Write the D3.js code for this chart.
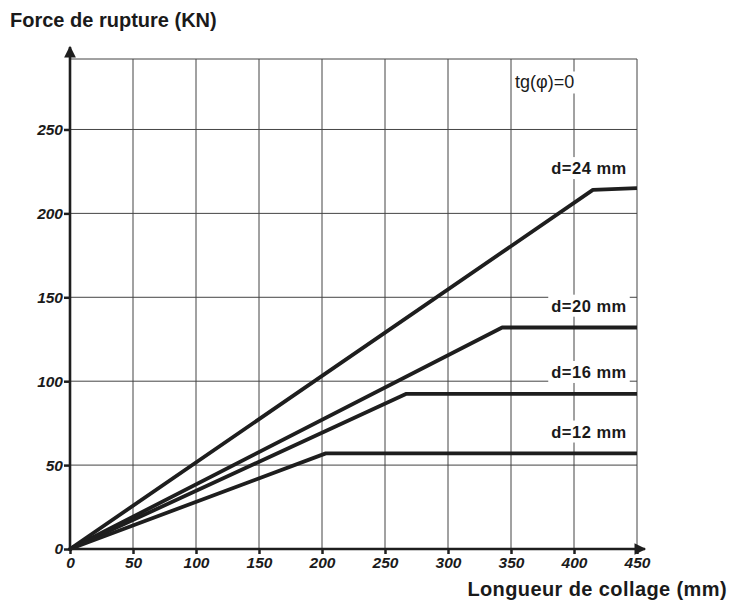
<!DOCTYPE html>
<html><head><meta charset="utf-8">
<script src="https://cdn.jsdelivr.net/npm/d3@7"></script>
<style>
body{margin:0;background:#fff;}
text{font-family:"Liberation Sans",Arial,Helvetica,sans-serif;fill:#1a1a1a;}
</style></head>
<body>
<svg id="chart" width="729" height="605"></svg>
<script>
const xTicks = [0,50,100,150,200,250,300,350,400,450];
const yTicks = [0,50,100,150,200,250];
const seriesNames = ["d=24 mm","d=20 mm","d=16 mm","d=12 mm"];
const d24 = [[0,0],[415,214],[450,215]];
const d20 = [[0,0],[343,132],[450,132]];
const d16 = [[0,0],[267,92.5],[450,92.5]];
const d12 = [[0,0],[203,57],[450,57]];
const labelY = [227,145,105.5,70];
const yMax = 292;

const svg = d3.select("#chart");
const m = {l:70, r:92, t:59, b:56};
const W = 729, H = 605;
const x = d3.scaleLinear().domain([0,450]).range([m.l, W-m.r]);
const y = d3.scaleLinear().domain([0,yMax]).range([H-m.b, m.t]);
const ink = "#1e1e1e";

// grid
const g = svg.append("g");
g.selectAll(".vg").data(xTicks.slice(1)).enter().append("line")
  .attr("x1",d=>x(d)).attr("x2",d=>x(d)).attr("y1",y(0)).attr("y2",y(yMax))
  .attr("stroke","#444").attr("stroke-width",1);
g.selectAll(".hg").data(yTicks.slice(1).concat([yMax])).enter().append("line")
  .attr("x1",x(0)).attr("x2",x(450)).attr("y1",d=>y(d)).attr("y2",d=>y(d))
  .attr("stroke","#444").attr("stroke-width",1);

// series
const line = d3.line().x(d=>x(d[0])).y(d=>y(d[1]));
[d24,d20,d16,d12].forEach(s=>{
  svg.append("path").attr("d",line(s)).attr("fill","none")
    .attr("stroke",ink).attr("stroke-width",3.8).attr("stroke-linejoin","round");
});

// series labels with white background
seriesNames.forEach((n,i)=>{
  const t = svg.append("text").attr("x",589).attr("y",y(labelY[i]))
    .attr("text-anchor","middle").attr("dominant-baseline","central")
    .attr("font-size",16.5).attr("letter-spacing",0.5).attr("font-weight","bold").text(n);
  const bb = t.node().getBBox();
  svg.insert("rect", () => t.node()).attr("x",bb.x-3).attr("y",bb.y-2)
    .attr("width",bb.width+6).attr("height",bb.height+4).attr("fill","#fff");
});
{
  const t = svg.append("text").attr("x",515).attr("y",y(278))
    .attr("dominant-baseline","central").attr("font-size",18).text("tg(φ)=0");
  const bb = t.node().getBBox();
  svg.insert("rect", () => t.node()).attr("x",bb.x-2).attr("y",bb.y-1)
    .attr("width",bb.width+4).attr("height",bb.height+2).attr("fill","#fff");
}

// axes
const xAxis = d3.axisBottom(x).tickValues(xTicks).tickSize(5).tickPadding(3);
const yAxis = d3.axisLeft(y).tickValues(yTicks).tickSize(6).tickPadding(1);
const gx = svg.append("g").attr("transform",`translate(0,${y(0)})`).call(xAxis);
const gy = svg.append("g").attr("transform",`translate(${x(0)},0)`).call(yAxis);
[gx,gy].forEach(a=>{
  a.select(".domain").remove();
  a.selectAll(".tick line").attr("stroke",ink).attr("stroke-width",2.5);
  a.selectAll(".tick text").attr("font-size",15.5).attr("font-style","italic")
    .attr("font-weight","bold").attr("fill","#1a1a1a")
    .style("font-family","'Liberation Sans',Arial,sans-serif");
});
// axis lines with arrows
svg.append("defs").append("marker").attr("id","arr").attr("viewBox","0 0 10 10")
  .attr("refX",9).attr("refY",5).attr("markerWidth",5).attr("markerHeight",4.5)
  .attr("orient","auto").append("path").attr("d","M0,0L10,5L0,10z").attr("fill",ink);
svg.append("line").attr("x1",x(0)).attr("x2",x(0)).attr("y1",y(0)+2).attr("y2",y(yMax)-12)
  .attr("stroke",ink).attr("stroke-width",2.6).attr("marker-end","url(#arr)");
svg.append("line").attr("x1",x(0)-2).attr("x2",x(450)+8).attr("y1",y(0)).attr("y2",y(0))
  .attr("stroke",ink).attr("stroke-width",2.6).attr("marker-end","url(#arr)");

// titles
svg.append("text").attr("x",10).attr("y",27).attr("font-size",20).attr("font-weight","bold")
  .text("Force de rupture (KN)");
svg.append("text").attr("x",727).attr("y",596).attr("text-anchor","end")
  .attr("font-size",20).attr("letter-spacing",0.4).attr("font-weight","bold").text("Longueur de collage (mm)");
</script>
</body></html>
